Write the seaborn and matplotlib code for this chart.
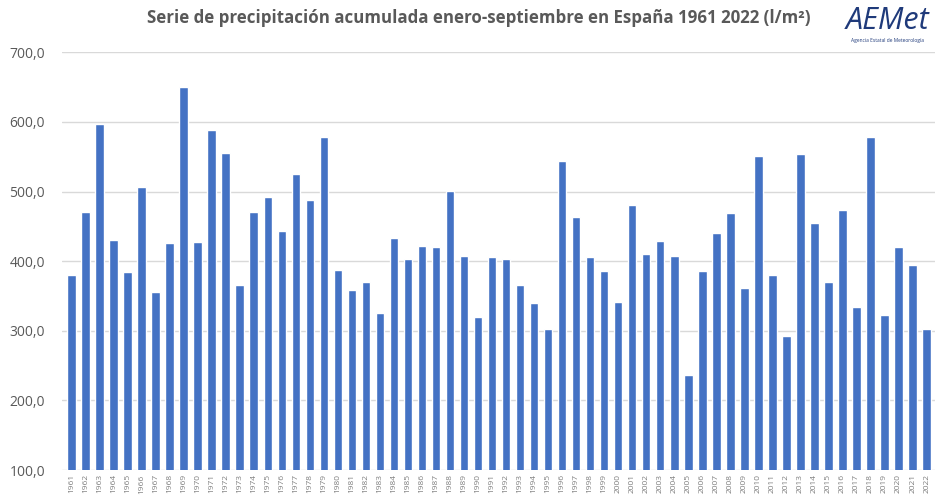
import matplotlib
matplotlib.use("Agg")
import matplotlib.pyplot as plt
import pandas as pd
import seaborn as sns

# ------------------------------------------------------------------
# DATA
# ------------------------------------------------------------------

years = list(range(1961, 2023))

precip = [
    380, 471, 597, 431, 384, 506, 356, 426, 650, 427,
    588, 556, 366, 471, 492, 443, 525, 488, 579, 387,
    358, 370, 325, 434, 403, 422, 420, 501, 408, 320,
    406, 403, 366, 340, 302, 544, 464, 406, 386, 342,
    480, 410, 429, 408, 236, 386, 441, 469, 361, 551,
    380, 293, 554, 455, 370, 474, 334, 579, 323, 420,
    394, 302,
]

y_ticks = [100, 200, 300, 400, 500, 600, 700]

df = pd.DataFrame({"year": [str(y) for y in years], "precip": precip})

# ------------------------------------------------------------------
# PLOT
# ------------------------------------------------------------------

sns.set_theme(style="white")
plt.rcParams["font.family"] = ["Open Sans", "DejaVu Sans"]

fig = plt.figure(figsize=(9.36, 4.98), dpi=100)
ax = fig.add_axes([0.066, 0.056, 0.933, 0.839])

sns.barplot(
    data=df,
    x="year",
    y="precip",
    color="#4472C4",
    saturation=1,
    width=0.6,
    ax=ax,
    zorder=3,
)

ax.set_ylim(100, 700)
ax.set_xlim(-0.69, 61.6)
ax.set_yticks(y_ticks)
ax.set_yticklabels([f"{v},0" for v in y_ticks], fontsize=10, color="#595959")
ax.tick_params(axis="x", labelrotation=90, labelsize=6, colors="#7f7f7f", length=0, pad=3)
ax.tick_params(axis="y", length=0, pad=12)
ax.set_xlabel("")
ax.set_ylabel("")
ax.yaxis.grid(True, color="#d9d9d9", linewidth=1, zorder=0)
for side in ["top", "right", "left", "bottom"]:
    ax.spines[side].set_visible(False)

fig.text(
    0.512, 0.963,
    "Serie de precipitación acumulada enero-septiembre en España 1961 2022 (l/m²)",
    ha="center", va="center", fontsize=12.2, fontweight="bold", color="#595959",
)

# AEMET logo as text
fig.text(0.948, 0.958, "AEMet", ha="center", va="center", fontsize=22,
         style="italic", color="#1f3a7a")
fig.text(0.948, 0.918, "Agencia Estatal de Meteorología", ha="center", va="center",
         fontsize=3.5, color="#1f3a7a")

fig.savefig("out.png", dpi=100)
plt.close(fig)
